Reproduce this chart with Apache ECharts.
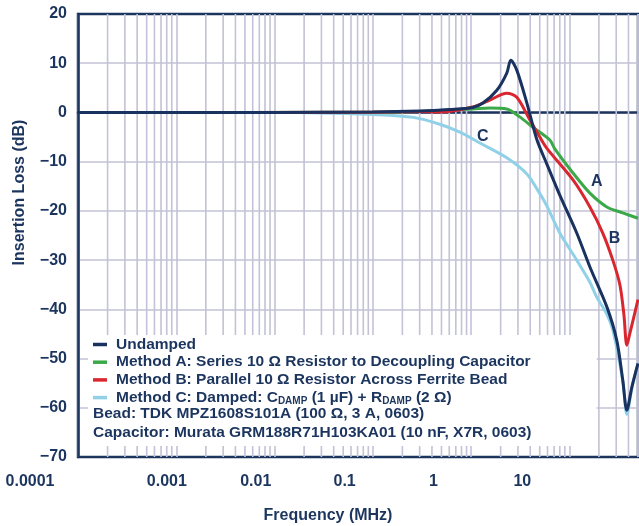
<!DOCTYPE html>
<html>
<head>
<meta charset="utf-8">
<script src="https://cdn.jsdelivr.net/npm/echarts@6/dist/echarts.min.js"></script>
<style>html,body{margin:0;padding:0;background:#fff}#chart{width:639px;height:526px}</style>
</head>
<body>
<div id="chart"></div>
<script>
// ---- data ----
const xTickValues = [0.0001, 0.001, 0.01, 0.1, 1, 10];
const xTickLabels = ['0.0001', '0.001', '0.01', '0.1', '1', '10'];
const yTickValues = [-70, -60, -50, -40, -30, -20, -10, 0, 10, 20];
const yTickLabels = ['\u221270', '\u221260', '\u221250', '\u221240', '\u221230', '\u221220', '\u221210', '0', '10', '20'];

const seriesNames = [
  'Undamped',
  'Method A: Series 10 \u03A9 Resistor to Decoupling Capacitor',
  'Method B: Parallel 10 \u03A9 Resistor Across Ferrite Bead',
  'Method C: Damped: CDAMP (1 \u00B5F) + RDAMP (2 \u03A9)'
];
const noteLines = [
  'Bead: TDK MPZ1608S101A (100 \u03A9, 3 A, 0603)',
  'Capacitor: Murata GRM188R71H103KA01 (10 nF, X7R, 0603)'
];

const freqUndamped = [0.0001, 0.01, 0.1, 0.3, 0.6, 1.04, 1.32, 1.83, 2.31, 2.54, 2.92, 3.7, 4.67, 5.91, 8.0, 11.9, 16.2, 24.1, 30.4, 35, 38.5, 43.3, 50];
const dbUndamped   = [0, 0, 0.1, 0.3, 0.6, 1.0, 1.9, 4.5, 8.0, 10.6, 8.6, 1.9, -5.5, -10.5, -16.8, -24.5, -31.4, -39.5, -46.3, -54.4, -60.5, -55.8, -51];

const freqA = [0.0001, 0.1, 0.3, 0.48, 1.04, 1.55, 2.31, 3.13, 4.25, 6.34, 7.12, 10.9, 16.2, 24.1, 35, 50];
const dbA   = [0, 0.05, 0.2, 0.4, 0.7, 0.9, 0.7, -0.9, -3, -5.6, -7.4, -12.3, -16.4, -19.2, -20.4, -21.5];

const freqB = [0.0001, 0.1, 0.3, 0.48, 1.04, 1.55, 2.31, 2.92, 3.96, 5.01, 5.91, 10.9, 16.2, 21.9, 27.7, 32.7, 35.9, 38.5, 41.2, 50];
const dbB   = [0, 0.05, 0.2, 0.1, 1.1, 2.5, 3.9, 3.1, -1.5, -5, -7.3, -13.7, -19.2, -24.5, -30, -35, -41, -47.3, -45, -38];

const freqC = [0.0001, 0.01, 0.03, 0.1, 0.26, 0.48, 0.77, 1.23, 2.31, 3.7, 5.01, 5.91, 8.0, 11.9, 16.2, 19.0, 24.1, 27.7, 35, 38.5, 43.3, 50];
const dbC   = [0, 0, -0.1, -0.4, -1, -2.4, -4, -6.2, -9.2, -12.5, -16.5, -19, -24.5, -30, -34.5, -37.5, -41, -44.2, -54.5, -61.3, -56, -51];

const curveLetters = ['A', 'B', 'C'];
const letterFreq   = [19, 28.9, 1.32];
const letterDb     = [-14.1, -25.7, -5];

// minor vertical grid values (2..9 per decade)
const minorMultipliers = [2, 3, 4, 5, 6, 7, 8, 9];
const decadeStarts = [0.0001, 0.001, 0.01, 0.1, 1, 10];

// ---- styling ----
const NAVY = '#1c355e';
const GRIDC = '#c3c2d6';
const FONT = '"Liberation Sans", Arial, Helvetica, sans-serif';
const colors = { u: '#1a3260', a: '#3ca948', b: '#d9262f', c: '#90d1e8' };

const zip = (f, d) => f.map((v, i) => [v, d[i]]);
const minorGridData = [];
decadeStarts.forEach(d => minorMultipliers.forEach(m => {
  const v = +(d * m).toPrecision(3);
  if (v <= 50) {
    minorGridData.push([v, -70], [v, 20], [v, '-']);
  }
}));

function letterMark(letter) {
  const i = curveLetters.indexOf(letter);
  return {
    symbol: 'circle', symbolSize: 1, silent: true,
    itemStyle: { color: 'rgba(0,0,0,0)' },
    label: { show: true, position: 'inside', formatter: letter, color: NAVY, fontSize: 16, fontWeight: 'bold', fontFamily: FONT },
    data: [{ coord: [letterFreq[i], letterDb[i]] }]
  };
}

const chart = echarts.init(document.getElementById('chart'), null, { renderer: 'canvas' });
const option = {
  backgroundColor: '#fff',
  animation: false,
  textStyle: { fontFamily: FONT },
  grid: { left: 78, right: 1, top: 14, bottom: 69, show: true, borderColor: NAVY, borderWidth: 2.5,
    backgroundColor: 'transparent', containLabel: false, outerBoundsMode: 'none' },
  xAxis: [{
    type: 'log', logBase: 10, min: 0.0001, max: 50,
    axisLine: { show: true, lineStyle: { color: NAVY, width: 2.5 } },
    axisTick: { show: false },
    axisLabel: { show: false },
    splitLine: { show: true, lineStyle: { color: GRIDC, width: 1.6 } }
  }, {
    type: 'log', logBase: 10, min: 0.0001, max: 200, position: 'bottom',
    axisLine: { show: false }, axisTick: { show: false }, splitLine: { show: false },
    axisLabel: {
      show: true, margin: 17, color: NAVY, fontSize: 16, fontWeight: 'bold', fontFamily: FONT,
      formatter: function (v) {
        for (let i = 0; i < xTickValues.length; i++) {
          if (Math.abs(Math.log10(v) - Math.log10(xTickValues[i])) < 1e-6) {
            return i === 0 ? '{first|' + xTickLabels[i] + '}' : xTickLabels[i];
          }
        }
        return '';
      },
      rich: { first: { color: NAVY, fontSize: 16, fontWeight: 'bold', fontFamily: FONT, padding: [0, 96, 0, 0] } }
    },
    name: 'Frequency (MHz)', nameLocation: 'middle', nameGap: 51,
    nameTextStyle: { color: NAVY, fontSize: 16, fontWeight: 'bold', fontFamily: FONT, padding: [0, 60, 0, 0] }
  }],
  yAxis: {
    type: 'value', min: -70, max: 20, interval: 10,
    axisLine: { show: true, lineStyle: { color: NAVY, width: 2.5 } },
    axisTick: { show: false },
    splitLine: { show: true, showMinLine: false, showMaxLine: false, lineStyle: { color: GRIDC, width: 1.6 } },
    axisLabel: {
      color: NAVY, fontSize: 16, fontWeight: 'bold', fontFamily: FONT, margin: 11,
      formatter: v => { const i = yTickValues.indexOf(v); return i >= 0 ? yTickLabels[i] : ''; }
    },
    name: 'Insertion Loss (dB)', nameLocation: 'middle', nameGap: 50,
    nameTextStyle: { color: NAVY, fontSize: 16, fontWeight: 'bold', fontFamily: FONT, padding: [0, 0, 0, 86] }
  },
  legend: {
    orient: 'vertical', left: 88, top: 335,
    padding: [1, 66, 40, 5], itemGap: 0.7,
    backgroundColor: '#fff',
    icon: 'rect', itemWidth: 14, itemHeight: 3.5,
    data: seriesNames.slice(),
    selectedMode: false,
    textStyle: {
      color: NAVY, fontSize: 15.5, fontWeight: 'bold', fontFamily: FONT, lineHeight: 17, padding: [0, 0, 0, 4],
      rich: { sub: { color: NAVY, fontSize: 10, fontWeight: 'bold', fontFamily: FONT, verticalAlign: 'bottom', lineHeight: 10 } }
    },
    formatter: function (name) {
      if (name === seriesNames[3]) return 'Method C: Damped: C{sub|DAMP} (1 \u00B5F) + R{sub|DAMP} (2 \u03A9)';
      return name;
    }
  },
  graphic: noteLines.map((t, i) => ({
    type: 'text', left: 93, top: 406 + i * 18.5, z: 100,
    style: { text: t, fill: NAVY, font: 'bold 15.5px ' + FONT }
  })),
  series: [
    { name: 'gridMinor', type: 'line', data: minorGridData, z: 1, silent: true, showSymbol: false,
      connectNulls: false, lineStyle: { color: GRIDC, width: 1.6 }, itemStyle: { color: GRIDC } },
    { name: seriesNames[3], type: 'line', data: zip(freqC, dbC), showSymbol: false, color: colors.c, smooth: 0.3,
      lineStyle: { width: 3, color: colors.c }, markPoint: letterMark('C') },
    { name: seriesNames[1], type: 'line', data: zip(freqA, dbA), showSymbol: false, color: colors.a, smooth: 0.3,
      lineStyle: { width: 3, color: colors.a }, markPoint: letterMark('A') },
    { name: seriesNames[2], type: 'line', data: zip(freqB, dbB), showSymbol: false, color: colors.b, smooth: 0.3,
      lineStyle: { width: 3, color: colors.b }, markPoint: letterMark('B') },
    { name: seriesNames[0], type: 'line', data: zip(freqUndamped, dbUndamped), showSymbol: false, color: colors.u, smooth: 0.3,
      lineStyle: { width: 3, color: colors.u } }
  ]
};
chart.setOption(option);
</script>
</body>
</html>
